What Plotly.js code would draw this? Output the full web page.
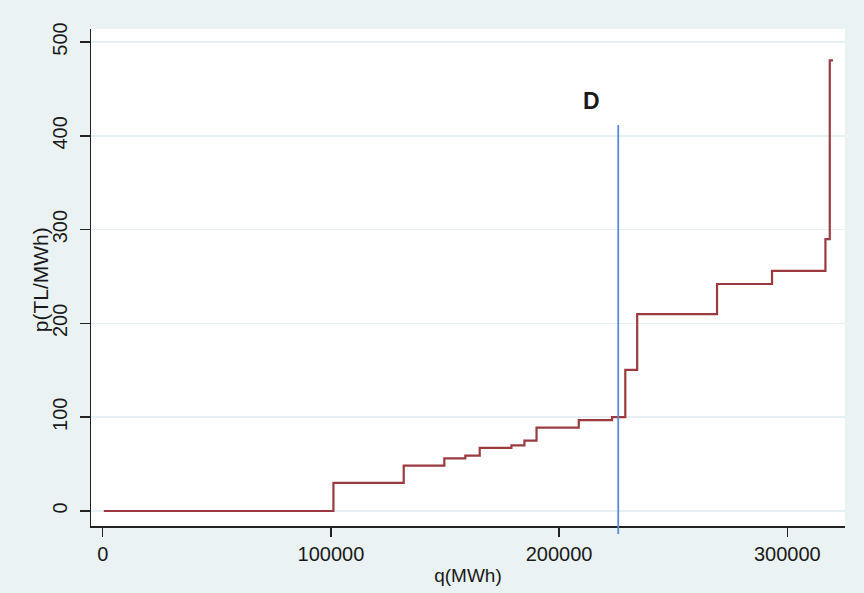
<!DOCTYPE html>
<html>
<head>
<meta charset="utf-8">
<script src="https://cdn.plot.ly/plotly-3.0.1.min.js"></script>
<style>
html, body { margin: 0; padding: 0; background: #eaf2f3; }
#chart { width: 864px; height: 593px; }
</style>
</head>
<body>
<div id="chart"></div>
<script>
// Supply curve steps: quantity (MWh) where each price step begins, and price (TL/MWh)
const quantity = [500, 101100, 131900, 149700, 158900, 165200, 179100, 184800, 190100, 208600, 223200, 229000, 234200, 269200, 293300, 316700, 318600, 320000];
const price    = [0,   30,     48.3,   56.2,   59,     67.2,   70,     75,     88.9,   96.8,   100,    150.4,  209.8,  242,    256,    289.8,  480.4,  480.4];

// Demand line position and label
const demandQ = 225900;
const demandLabel = "D";
const demandLabelQ = 214200;
const demandLabelP = 437;

// Axis ticks
const xTicks = [0, 100000, 200000, 300000];
const xTickText = ["0", "100000", "200000", "300000"];
const yTicks = [0, 100, 200, 300, 400, 500];
const yTickText = ["0", "100", "200", "300", "400", "500"];

const fontFam = "Arial, 'Liberation Sans', sans-serif";
const ink = "#1a1a1a";

const traces = [{
  x: quantity,
  y: price,
  type: "scatter",
  mode: "lines",
  line: { shape: "hv", color: "#9c3a40", width: 2.2 },
  hoverinfo: "x+y",
  showlegend: false
}];

const layout = {
  width: 864,
  height: 593,
  margin: { l: 91, r: 19, t: 29, b: 67 },
  paper_bgcolor: "#eaf2f3",
  plot_bgcolor: "#ffffff",
  showlegend: false,
  font: { family: fontFam, color: ink },
  xaxis: {
    range: [-5130, 325270],
    tickmode: "array",
    tickvals: xTicks,
    ticktext: xTickText,
    ticks: "outside",
    ticklen: 9,
    tickwidth: 1.5,
    tickcolor: "#222",
    showline: true,
    linecolor: "#222",
    linewidth: 1.5,
    showgrid: false,
    zeroline: false,
    tickfont: { size: 20, family: fontFam, color: ink },
    title: { text: "q(MWh)", font: { size: 19, family: fontFam, color: ink }, standoff: 5 },
    automargin: false
  },
  yaxis: {
    range: [-16, 513.9],
    tickmode: "array",
    tickvals: yTicks,
    ticktext: yTickText,
    tickangle: -90,
    ticks: "outside",
    ticklen: 10,
    tickwidth: 1.5,
    tickcolor: "#222",
    showline: true,
    linecolor: "#222",
    linewidth: 1.5,
    showgrid: true,
    gridcolor: "#e6eff1",
    gridwidth: 1.5,
    zeroline: false,
    tickfont: { size: 20, family: fontFam, color: ink },
    ticklabelstandoff: 5,
    automargin: false
  },
  shapes: [{
    type: "line",
    xref: "x",
    yref: "paper",
    x0: demandQ, x1: demandQ,
    y0: -0.016, y1: 0.807,
    line: { color: "#5a8bd6", width: 1.8 },
    layer: "above"
  }],
  annotations: [{
    x: demandLabelQ,
    y: demandLabelP,
    xref: "x",
    yref: "y",
    text: "<b>" + demandLabel + "</b>",
    showarrow: false,
    font: { size: 23, family: fontFam, color: ink }
  }, {
    x: -0.066,
    y: 0.495,
    xref: "paper",
    yref: "paper",
    xanchor: "center",
    yanchor: "middle",
    text: "p(TL/MWh)",
    textangle: -90,
    showarrow: false,
    font: { size: 21, family: fontFam, color: ink }
  }]
};

Plotly.newPlot("chart", traces, layout, { displayModeBar: false, staticPlot: true });
</script>
</body>
</html>
